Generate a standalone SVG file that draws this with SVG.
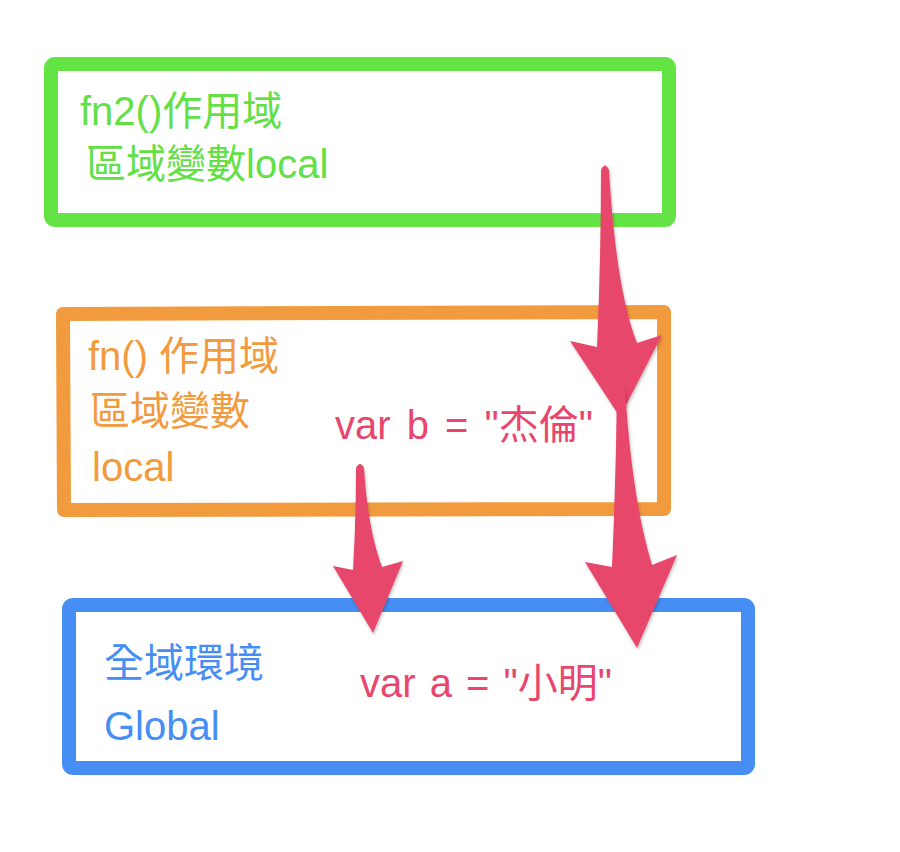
<svg xmlns="http://www.w3.org/2000/svg" width="900" height="852" viewBox="0 0 900 852">
<style>
.box{fill:none;stroke-width:14;stroke-linejoin:round}
.t{font-family:"Liberation Sans","Noto Sans CJK TC",sans-serif;font-size:40px}
.g{fill:#62E046}.o{fill:#F29B3E}.b{fill:#468EF4}.p{fill:#E8466C;word-spacing:5px}
.arr{fill:#E8466C;filter:url(#sh)}
</style>
<defs>
<filter id="sh" x="-30%" y="-10%" width="160%" height="120%">
<feDropShadow dx="1" dy="2" stdDeviation="1.5" flood-color="#000" flood-opacity="0.25"/>
</filter>
</defs>
<rect width="900" height="852" fill="#fff"/>
<g id="fn2">
<rect class="box" x="51" y="64" width="618" height="156" rx="4" stroke="#63E444"/>
<text class="t g" x="80" y="125">fn2()作用域</text>
<text class="t g" x="86" y="178">區域變數local</text>
</g>
<g id="fn">
<path class="box" d="M63,314 L664,312 L664,509 L64,510 Z" stroke="#F29B3E"/>
<text class="t o" x="88" y="370">fn() 作用域</text>
<text class="t o" x="90" y="425">區域變數</text>
<text class="t o" x="92" y="481">local</text>
<text class="t p" x="335" y="439">var b = "杰倫"</text>
</g>
<g id="global">
<rect class="box" x="69" y="605" width="679" height="163" rx="4" stroke="#468EF4"/>
<text class="t b" x="104" y="677">全域環境</text>
<text class="t b" x="104" y="740">Global</text>
<text class="t p" x="360" y="697" style="word-spacing:3px">var a = "小明"</text>
</g>
<g id="connectors">
<path class="arr" d="M356,468 Q360,460 364,468 Q368,530 382,567 L403,561 L373,633 L333,566 L353,570 Q356,520 356,468 Z"/>
<path class="arr" d="M601,170 Q605,161 609,170 Q616,290 637,343 L662,335 L620,417 L570,341 L597,347 Q601,260 601,170 Z"/>
<path class="arr" d="M617,388 Q621,380 625,388 Q632,500 652,565 L677,555 L637,648 L585,562 L612,567 Q616,480 617,388 Z"/>
</g>
</svg>
